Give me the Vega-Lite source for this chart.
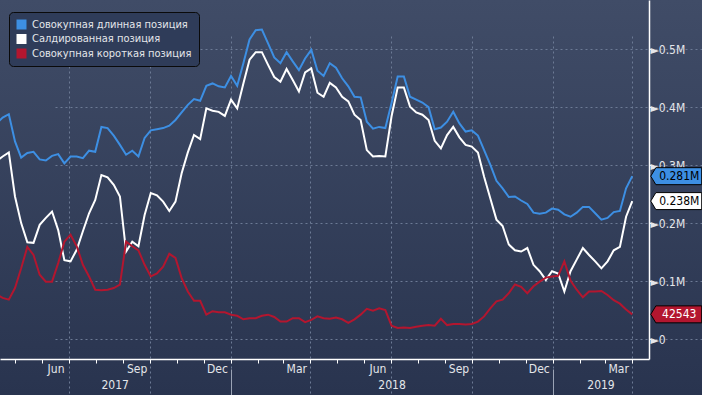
{
  "$schema": "https://vega.github.io/schema/vega-lite/v6.json",
  "width": 702,
  "height": 395,
  "autosize": {"type": "none"},
  "padding": 0,
  "background": "#2c3855",
  "config": {
    "view": {"stroke": null, "fill": {"gradient": "linear", "x1": 0, "y1": 0, "x2": 0, "y2": 1, "stops": [{"offset": 0, "color": "#404c67"}, {"offset": 1, "color": "#29344f"}]}},
    "font": "DejaVu Sans Condensed",
    "axis": {"labelFont": "DejaVu Sans Condensed", "labelColor": "#e4e6ea", "labelFontSize": 12, "title": null, "labelFlush": false, "labelOverlap": false}
  },
  "datasets": {
    "main": [
      {"d": "2017-04-10", "L": 0.372, "N": 0.307, "S": 0.077},
      {"d": "2017-04-17", "L": 0.382, "N": 0.315, "S": 0.071},
      {"d": "2017-04-24", "L": 0.388, "N": 0.322, "S": 0.068},
      {"d": "2017-05-01", "L": 0.341, "N": 0.246, "S": 0.088},
      {"d": "2017-05-08", "L": 0.313, "N": 0.200, "S": 0.122},
      {"d": "2017-05-15", "L": 0.321, "N": 0.167, "S": 0.159},
      {"d": "2017-05-22", "L": 0.323, "N": 0.166, "S": 0.145},
      {"d": "2017-05-29", "L": 0.310, "N": 0.197, "S": 0.111},
      {"d": "2017-06-05", "L": 0.308, "N": 0.209, "S": 0.099},
      {"d": "2017-06-12", "L": 0.316, "N": 0.220, "S": 0.099},
      {"d": "2017-06-19", "L": 0.319, "N": 0.188, "S": 0.131},
      {"d": "2017-06-26", "L": 0.303, "N": 0.136, "S": 0.168},
      {"d": "2017-07-03", "L": 0.315, "N": 0.134, "S": 0.180},
      {"d": "2017-07-10", "L": 0.315, "N": 0.154, "S": 0.160},
      {"d": "2017-07-17", "L": 0.312, "N": 0.186, "S": 0.128},
      {"d": "2017-07-24", "L": 0.325, "N": 0.217, "S": 0.108},
      {"d": "2017-07-31", "L": 0.323, "N": 0.240, "S": 0.085},
      {"d": "2017-08-07", "L": 0.366, "N": 0.283, "S": 0.084},
      {"d": "2017-08-14", "L": 0.364, "N": 0.279, "S": 0.085},
      {"d": "2017-08-21", "L": 0.351, "N": 0.266, "S": 0.088},
      {"d": "2017-08-28", "L": 0.335, "N": 0.246, "S": 0.094},
      {"d": "2017-09-04", "L": 0.318, "N": 0.151, "S": 0.168},
      {"d": "2017-09-11", "L": 0.325, "N": 0.168, "S": 0.160},
      {"d": "2017-09-18", "L": 0.315, "N": 0.160, "S": 0.153},
      {"d": "2017-09-25", "L": 0.347, "N": 0.214, "S": 0.128},
      {"d": "2017-10-02", "L": 0.360, "N": 0.252, "S": 0.108},
      {"d": "2017-10-09", "L": 0.362, "N": 0.248, "S": 0.113},
      {"d": "2017-10-16", "L": 0.364, "N": 0.237, "S": 0.125},
      {"d": "2017-10-23", "L": 0.368, "N": 0.221, "S": 0.147},
      {"d": "2017-10-30", "L": 0.378, "N": 0.237, "S": 0.140},
      {"d": "2017-11-06", "L": 0.391, "N": 0.286, "S": 0.105},
      {"d": "2017-11-13", "L": 0.404, "N": 0.322, "S": 0.082},
      {"d": "2017-11-20", "L": 0.414, "N": 0.352, "S": 0.066},
      {"d": "2017-11-27", "L": 0.411, "N": 0.345, "S": 0.066},
      {"d": "2017-12-04", "L": 0.437, "N": 0.398, "S": 0.042},
      {"d": "2017-12-11", "L": 0.441, "N": 0.394, "S": 0.048},
      {"d": "2017-12-18", "L": 0.436, "N": 0.392, "S": 0.046},
      {"d": "2017-12-25", "L": 0.434, "N": 0.385, "S": 0.046},
      {"d": "2018-01-01", "L": 0.454, "N": 0.413, "S": 0.042},
      {"d": "2018-01-08", "L": 0.437, "N": 0.398, "S": 0.040},
      {"d": "2018-01-15", "L": 0.476, "N": 0.441, "S": 0.034},
      {"d": "2018-01-22", "L": 0.517, "N": 0.482, "S": 0.036},
      {"d": "2018-01-29", "L": 0.533, "N": 0.495, "S": 0.036},
      {"d": "2018-02-05", "L": 0.534, "N": 0.495, "S": 0.040},
      {"d": "2018-02-12", "L": 0.510, "N": 0.473, "S": 0.042},
      {"d": "2018-02-19", "L": 0.486, "N": 0.452, "S": 0.038},
      {"d": "2018-02-26", "L": 0.476, "N": 0.444, "S": 0.030},
      {"d": "2018-03-05", "L": 0.495, "N": 0.466, "S": 0.030},
      {"d": "2018-03-12", "L": 0.479, "N": 0.447, "S": 0.036},
      {"d": "2018-03-19", "L": 0.464, "N": 0.427, "S": 0.036},
      {"d": "2018-03-26", "L": 0.484, "N": 0.460, "S": 0.029},
      {"d": "2018-04-02", "L": 0.499, "N": 0.467, "S": 0.033},
      {"d": "2018-04-09", "L": 0.463, "N": 0.425, "S": 0.039},
      {"d": "2018-04-16", "L": 0.454, "N": 0.418, "S": 0.036},
      {"d": "2018-04-23", "L": 0.476, "N": 0.442, "S": 0.035},
      {"d": "2018-04-30", "L": 0.468, "N": 0.434, "S": 0.037},
      {"d": "2018-05-07", "L": 0.450, "N": 0.418, "S": 0.034},
      {"d": "2018-05-14", "L": 0.436, "N": 0.410, "S": 0.028},
      {"d": "2018-05-21", "L": 0.418, "N": 0.387, "S": 0.034},
      {"d": "2018-05-28", "L": 0.417, "N": 0.378, "S": 0.042},
      {"d": "2018-06-04", "L": 0.375, "N": 0.326, "S": 0.052},
      {"d": "2018-06-11", "L": 0.363, "N": 0.315, "S": 0.049},
      {"d": "2018-06-18", "L": 0.366, "N": 0.316, "S": 0.053},
      {"d": "2018-06-25", "L": 0.364, "N": 0.315, "S": 0.050},
      {"d": "2018-07-02", "L": 0.407, "N": 0.384, "S": 0.023},
      {"d": "2018-07-09", "L": 0.453, "N": 0.434, "S": 0.019},
      {"d": "2018-07-16", "L": 0.453, "N": 0.434, "S": 0.020},
      {"d": "2018-07-23", "L": 0.418, "N": 0.401, "S": 0.019},
      {"d": "2018-07-30", "L": 0.413, "N": 0.391, "S": 0.021},
      {"d": "2018-08-06", "L": 0.408, "N": 0.387, "S": 0.023},
      {"d": "2018-08-13", "L": 0.400, "N": 0.378, "S": 0.024},
      {"d": "2018-08-20", "L": 0.362, "N": 0.342, "S": 0.023},
      {"d": "2018-08-27", "L": 0.365, "N": 0.329, "S": 0.035},
      {"d": "2018-09-03", "L": 0.375, "N": 0.352, "S": 0.024},
      {"d": "2018-09-10", "L": 0.392, "N": 0.366, "S": 0.026},
      {"d": "2018-09-17", "L": 0.372, "N": 0.348, "S": 0.026},
      {"d": "2018-09-24", "L": 0.358, "N": 0.335, "S": 0.025},
      {"d": "2018-10-01", "L": 0.360, "N": 0.332, "S": 0.026},
      {"d": "2018-10-08", "L": 0.351, "N": 0.322, "S": 0.030},
      {"d": "2018-10-15", "L": 0.326, "N": 0.280, "S": 0.039},
      {"d": "2018-10-22", "L": 0.301, "N": 0.243, "S": 0.053},
      {"d": "2018-10-29", "L": 0.273, "N": 0.206, "S": 0.065},
      {"d": "2018-11-05", "L": 0.260, "N": 0.195, "S": 0.068},
      {"d": "2018-11-12", "L": 0.245, "N": 0.163, "S": 0.079},
      {"d": "2018-11-19", "L": 0.246, "N": 0.153, "S": 0.094},
      {"d": "2018-11-26", "L": 0.239, "N": 0.151, "S": 0.090},
      {"d": "2018-12-03", "L": 0.233, "N": 0.157, "S": 0.079},
      {"d": "2018-12-10", "L": 0.218, "N": 0.128, "S": 0.091},
      {"d": "2018-12-17", "L": 0.216, "N": 0.117, "S": 0.099},
      {"d": "2018-12-24", "L": 0.218, "N": 0.102, "S": 0.106},
      {"d": "2018-12-31", "L": 0.225, "N": 0.117, "S": 0.108},
      {"d": "2019-01-07", "L": 0.223, "N": 0.113, "S": 0.109},
      {"d": "2019-01-14", "L": 0.215, "N": 0.082, "S": 0.134},
      {"d": "2019-01-21", "L": 0.211, "N": 0.117, "S": 0.101},
      {"d": "2019-01-28", "L": 0.218, "N": 0.137, "S": 0.085},
      {"d": "2019-02-04", "L": 0.228, "N": 0.157, "S": 0.072},
      {"d": "2019-02-11", "L": 0.228, "N": 0.145, "S": 0.082},
      {"d": "2019-02-18", "L": 0.217, "N": 0.134, "S": 0.082},
      {"d": "2019-02-25", "L": 0.206, "N": 0.122, "S": 0.083},
      {"d": "2019-03-04", "L": 0.209, "N": 0.134, "S": 0.076},
      {"d": "2019-03-11", "L": 0.219, "N": 0.153, "S": 0.067},
      {"d": "2019-03-18", "L": 0.221, "N": 0.159, "S": 0.061},
      {"d": "2019-03-25", "L": 0.260, "N": 0.211, "S": 0.051},
      {"d": "2019-04-01", "L": 0.281, "N": 0.238, "S": 0.042543}
    ],
    "ends": [
      {"d": "2019-04-01", "s": "L", "v": 0.281, "t": "0.281M"},
      {"d": "2019-04-01", "s": "N", "v": 0.238, "t": "0.238M"},
      {"d": "2019-04-01", "s": "S", "v": 0.042543, "t": "42543"}
    ]
  },
  "layer": [
    {
      "data": {"name": "main"},
      "transform": [{"fold": ["L", "N", "S"], "as": ["s", "v"]}],
      "mark": {"type": "line", "strokeWidth": 2, "clip": true},
      "encoding": {
        "x": {
          "field": "d", "type": "temporal",
          "scale": {"type": "utc", "domain": [{"year": 2017, "month": 4, "date": 14, "utc": true}, {"year": 2019, "month": 4, "date": 20, "utc": true}], "range": [0, 649]},
          "axis": {
            "orient": "bottom", "offset": -36,
            "tickCount": {"interval": "month", "step": 1},
            "labels": false, "tickSize": 4, "tickColor": "#ffffff", "tickWidth": 1,
            "domainColor": "#ffffff", "domainWidth": 1.5,
            "grid": true, "gridColor": "#6c7a95", "gridDash": [2, 3], "gridWidth": 1,
            "gridOpacity": {"condition": {"test": "utcmonth(datum.value) % 3 == 0", "value": 1}, "value": 0}
          }
        },
        "y": {
          "field": "v", "type": "quantitative",
          "scale": {"domain": [-0.0345, 0.585], "nice": false, "zero": false, "range": [359, 0]},
          "axis": {
            "orient": "right", "offset": -53,
            "values": [0, 0.05, 0.1, 0.15, 0.2, 0.25, 0.3, 0.35, 0.4, 0.45, 0.5, 0.55],
            "tickSize": 4, "tickColor": "#ffffff", "domainColor": "#ffffff", "domainWidth": 1.5,
            "labelPadding": -3, "labelBaseline": "middle",
            "labelExpr": "round(datum.value*100) % 10 == 0 ? '►' + (datum.value == 0 ? '0' : format(datum.value, '.1f') + 'M') : ''",
            "grid": true, "gridColor": "#6c7a95", "gridDash": [2, 3], "gridWidth": 1,
            "gridOpacity": {"condition": {"test": "round(datum.value*100) % 10 == 0", "value": 1}, "value": 0}
          }
        },
        "color": {
          "field": "s", "type": "nominal",
          "scale": {"domain": ["L", "N", "S"], "range": ["#3d8fe3", "#ffffff", "#b3162f"]},
          "legend": {
            "orient": "none", "legendX": 9, "legendY": 12, "title": null,
            "fillColor": "#2f3c59", "strokeColor": "#0a0a0a", "cornerRadius": 4, "padding": 7,
            "symbolType": "square", "symbolSize": 100, "symbolStrokeWidth": 0,
            "labelColor": "#e4e6ea", "labelFont": "DejaVu Sans Condensed", "labelFontSize": 11,
            "rowPadding": 2.5, "labelOffset": 5,
            "labelExpr": "datum.label == 'L' ? 'Совокупная длинная позиция' : datum.label == 'N' ? 'Салдированная позиция' : 'Совокупная короткая позиция'",
            "encode": {"symbols": {"update": {"fill": {"scale": "color", "field": "value"}, "strokeWidth": {"value": 0}}}}
          }
        }
      }
    },
    {
      "data": {"name": "ends"},
      "mark": {"type": "point", "shape": "M-1,0L-0.8,-0.333L1,-0.333L1,0.333L-0.8,0.333Z", "size": 2601, "filled": true, "opacity": 1, "stroke": "#000000", "strokeWidth": 1, "xOffset": 44},
      "encoding": {
        "x": {
          "field": "d", "type": "temporal",
          "axis": {
            "orient": "bottom", "offset": -36,
            "values": [
              {"year": 2017, "month": 6, "date": 16, "utc": true},
              {"year": 2017, "month": 9, "date": 16, "utc": true},
              {"year": 2017, "month": 12, "date": 16, "utc": true},
              {"year": 2018, "month": 3, "date": 16, "utc": true},
              {"year": 2018, "month": 6, "date": 16, "utc": true},
              {"year": 2018, "month": 9, "date": 16, "utc": true},
              {"year": 2018, "month": 12, "date": 16, "utc": true},
              {"year": 2019, "month": 3, "date": 16, "utc": true}
            ],
            "labelExpr": "utcFormat(datum.value, '%b')",
            "ticks": false, "domain": false, "grid": false, "labelPadding": 4
          }
        },
        "y": {"field": "v", "type": "quantitative"},
        "color": {"field": "s", "type": "nominal", "legend": null}
      }
    },
    {
      "data": {"name": "ends"},
      "mark": {"type": "text", "xOffset": 47, "font": "DejaVu Sans Condensed", "fontSize": 12, "align": "center", "baseline": "middle"},
      "encoding": {
        "x": {
          "field": "d", "type": "temporal",
          "axis": {
            "orient": "bottom", "offset": -26,
            "values": [
              {"year": 2017, "month": 8, "date": 22, "utc": true},
              {"year": 2018, "month": 1, "date": 1, "utc": true},
              {"year": 2018, "month": 7, "date": 2, "utc": true},
              {"year": 2019, "month": 1, "date": 1, "utc": true},
              {"year": 2019, "month": 2, "date": 24, "utc": true}
            ],
            "labelExpr": "utcdate(datum.value) == 1 && utcmonth(datum.value) == 0 ? '' : utcFormat(datum.value, '%Y')",
            "tickSize": 26, "tickColor": "#9aa3b5",
            "tickOpacity": {"condition": {"test": "utcdate(datum.value) == 1 && utcmonth(datum.value) == 0", "value": 1}, "value": 0},
            "labelPadding": -16, "domain": false, "grid": false
          }
        },
        "y": {"field": "v", "type": "quantitative"},
        "text": {"field": "t"},
        "color": {"condition": {"test": "datum.s == 'S'", "value": "#ffffff"}, "value": "#000000"}
      }
    }
  ],
  "resolve": {"axis": {"x": "independent"}}
}
